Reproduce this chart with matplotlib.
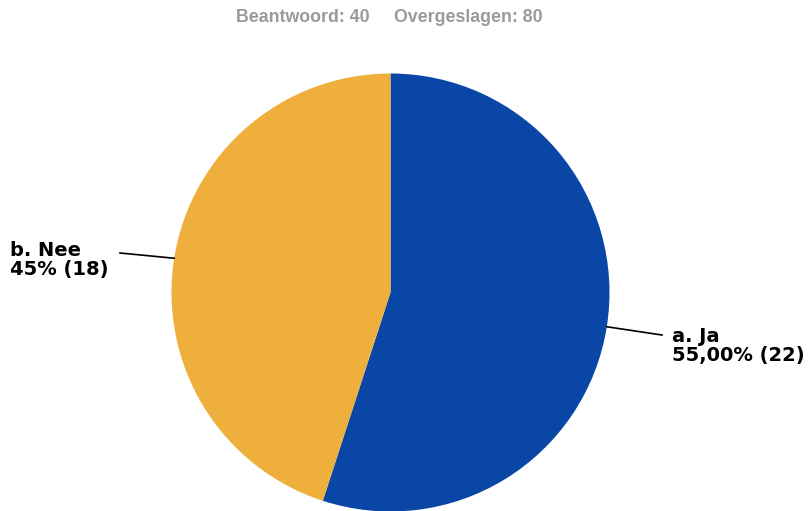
import matplotlib
matplotlib.use("Agg")
import matplotlib.pyplot as plt
import numpy as np

labels = ["a. Ja", "b. Nee"]
counts = [22, 18]
pct_texts = ["55,00%", "45%"]
colors = ["#0A46A6", "#EEAF3D"]
title = "Beantwoord: 40     Overgeslagen: 80"

W, H = 808, 511
fig = plt.figure(figsize=(W / 100, H / 100), dpi=100)
ax = fig.add_axes([0, 0, 1, 1])

cx, cy, r = 390.5, H - 292.5, 219
wedges, _ = ax.pie(counts, colors=colors, startangle=90, counterclock=False,
                   center=(cx, cy), radius=r, frame=True,
                   wedgeprops=dict(linewidth=0))
ax.set_xlim(0, W)
ax.set_ylim(0, H)
ax.set_aspect("equal")
ax.axis("off")

# label positions (layout)
text_pos = [(672, H - 346), (10, H - 260)]
line_end = [(662, H - 335), (120, H - 253)]
for w, lab, c, p, tp, le in zip(wedges, labels, counts, pct_texts, text_pos, line_end):
    ang = np.deg2rad((w.theta1 + w.theta2) / 2)
    x0, y0 = cx + r * np.cos(ang), cy + r * np.sin(ang)
    ax.plot([x0, le[0]], [y0, le[1]], color="black", lw=1.2)
    ax.text(tp[0], tp[1], f"{lab}\n{p} ({c})", ha="left", va="center",
            fontsize=14, fontweight="bold", family="DejaVu Sans",
            linespacing=1.0, color="black")

fig.text(389 / W, 1 - 17 / H, title, ha="center", va="center", fontsize=12.8,
         fontweight="bold", family="Liberation Sans", color="#9a9a9a")

fig.savefig("out.png", dpi=100)
